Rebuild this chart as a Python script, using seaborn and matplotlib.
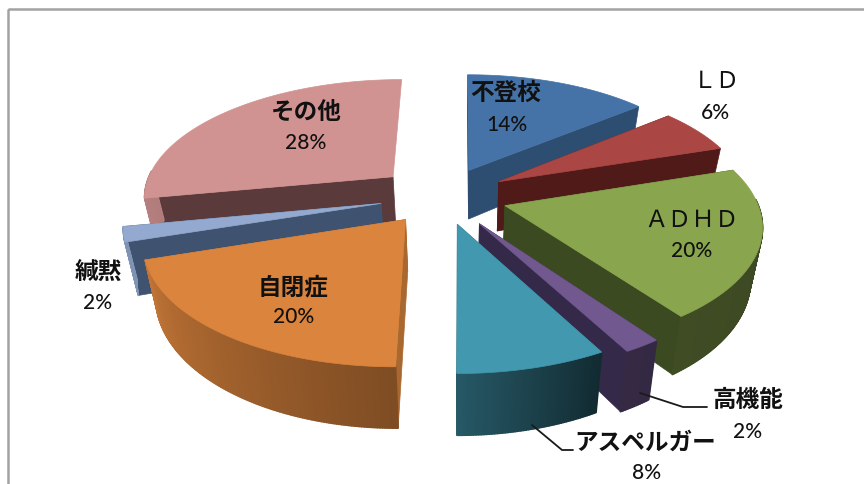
import numpy as np
import matplotlib
matplotlib.use("Agg")
import matplotlib.pyplot as plt
from matplotlib.collections import PolyCollection
from matplotlib.colors import to_rgb
from matplotlib.patches import Polygon, Rectangle
import seaborn as sns

# Share of cases per category, clockwise from twelve o'clock
categories = ["不登校", "ＬＤ", "ＡＤＨＤ", "高機能", "アスペルガー", "自閉症", "緘黙", "その他"]
shares = [14, 6, 20, 2, 8, 20, 2, 28]
explode = [0.25, 0.26, 0.26, 0.27, 0.24, 0.24, 0.25, 0.265]
top_colors = ["#4573A7", "#AA4643", "#89A54E", "#71588F", "#4198AF", "#DB843D", "#93A9CF", "#D19392"]
cut_colors = ["#2D4D71", "#4F1A18", "#3B4A20", "#35294A", "#2B5F6E", "#A9682F", "#3F5370", "#5A3A3A"]
label_weights = ["bold", "normal", "normal", "bold", "bold", "bold", "bold", "bold"]
label_pos = [(506, 93), (716, 82), (692, 220), (748, 400), (645, 443), (293, 287), (98, 272), (306, 112)]
value_pos = [(507, 125), (715, 113), (692, 251), (748, 432), (647, 473), (294, 317), (98, 303), (306, 143)]

sns.set_theme(style="white")
JP = ["Noto Sans CJK JP", "DejaVu Sans"]
PCT = ["Lato", "DejaVu Sans"]

# Perspective camera for the tilted pie
CX, CY, SCALE_X, SCALE_Y, PERSP, DEPTH, TAPER = 460.0, 192.0, 249.0, 116.0, 0.15, 50.0, 0.04
CENTRE = (-0.07, -0.035)


def project(x, y, z=0.0):
    """World point on the pie to figure coordinates; z = 1 is the underside."""
    x, y = np.asarray(x, float), np.asarray(y, float)
    s = 1.0 / (1.0 + PERSP * y)
    sx = CX + SCALE_X * x * s
    sy = CY - SCALE_Y * y * s + z * DEPTH * s
    sx = sx + z * TAPER * (CX - sx)
    return np.column_stack([sx, sy])


def rim_shade(theta):
    """Brightness of the outer wall as a function of clock angle."""
    return np.interp(theta, [60, 144, 151.1, 151.3, 180, 181, 252, 360],
                     [0.42, 0.46, 0.47, 0.28, 0.58, 0.58, 0.88, 0.7])


fig = plt.figure(figsize=(8.64, 4.84), dpi=100, facecolor="white")
ax = fig.add_axes([0, 0, 1, 1])
ax.set_xlim(0, 864)
ax.set_ylim(484, 0)
ax.axis("off")

ax.add_patch(Rectangle((8, 9), 900, 600, fill=False, ec="#A3A3A3", lw=1.8))

values = np.array(shares, float)
edges = np.concatenate([[0], np.cumsum(values)]) / values.sum() * 360.0

# Back slices are painted first so nearer ones overlap them
paint_order = [7, 0, 1, 2, 3, 4, 6, 5]
for i in paint_order:
    a0, a1 = edges[i], edges[i + 1]
    mid = np.radians((a0 + a1) / 2)
    ox = CENTRE[0] + explode[i] * np.sin(mid)
    oy = CENTRE[1] + explode[i] * np.cos(mid)
    theta = np.linspace(a0, a1, max(int(a1 - a0) * 2, 8))
    rx = ox + np.sin(np.radians(theta))
    ry = oy + np.cos(np.radians(theta))

    # Flat cut faces running from the apex out to both radial edges;
    # the closing edge at twelve o'clock faces away and stays hidden
    for j in (0, -1):
        if j == -1 and i == len(shares) - 1:
            continue
        q = np.vstack([project([ox, rx[j]], [oy, ry[j]], 0),
                       project([rx[j], ox], [ry[j], oy], 1)])
        ax.add_patch(Polygon(q, closed=True, fc=cut_colors[i], ec=cut_colors[i], lw=0.5))

    # Curved outer wall, built from narrow shaded strips
    upper, lower = project(rx, ry, 0), project(rx, ry, 1)
    quads, shades = [], []
    base = np.array(to_rgb(top_colors[i]))
    for k in range(len(theta) - 1):
        if np.cos(np.radians((theta[k] + theta[k + 1]) / 2)) > 0.05:
            continue
        quads.append([upper[k], upper[k + 1], lower[k + 1], lower[k]])
        shades.append(base * rim_shade((theta[k] + theta[k + 1]) / 2))
    if quads:
        ax.add_collection(PolyCollection(quads, facecolors=shades, edgecolors=shades, linewidths=1.2))

    # Top surface
    top = np.vstack([project([ox], [oy]), upper])
    ax.add_patch(Polygon(top, closed=True, fc=top_colors[i], ec=top_colors[i], lw=0.5))

# Leader lines for the two narrow slices on the lower right
ax.plot([640, 683, 707], [393, 407, 407], color="#1A1A1A", lw=1.3, solid_capstyle="round")
ax.plot([532, 562, 573], [425, 450, 450], color="#1A1A1A", lw=1.3, solid_capstyle="round")

for name, share, lp, vp, wt in zip(categories, shares, label_pos, value_pos, label_weights):
    ax.text(*lp, name, family=JP, fontsize=17, fontweight=wt, color="#111111",
            ha="center", va="center")
    ax.text(*vp, f"{share}%", family=PCT, fontsize=15, fontweight="medium", color="#111111",
            ha="center", va="center")

fig.savefig("out.png", dpi=100)
